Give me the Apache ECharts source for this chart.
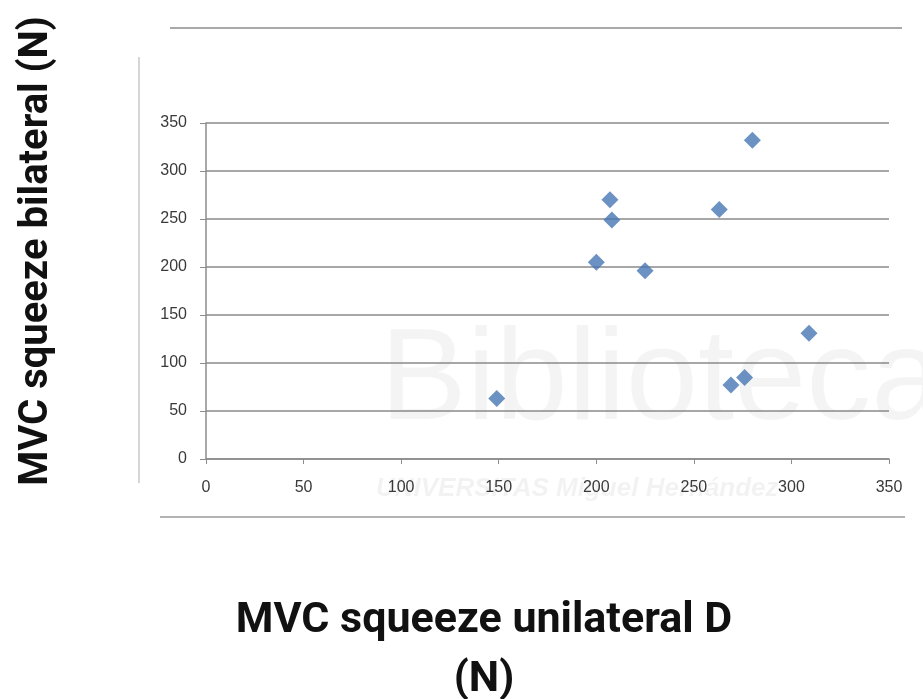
<!DOCTYPE html>
<html>
<head>
<meta charset="utf-8">
<script src="https://cdn.jsdelivr.net/npm/echarts@6/dist/echarts.min.js"></script>
<style>
html,body{margin:0;padding:0;background:#fff;}
#main{width:923px;height:699px;}
</style>
</head>
<body>
<div id="main"></div>
<script>
// Data
const unilateralD = [149, 200, 207, 208, 225, 263, 269, 276, 280, 309];
const bilateral   = [63, 205, 270, 249, 196, 260, 77, 85, 332, 131];
const xTicks = [0, 50, 100, 150, 200, 250, 300, 350];
const yTicks = [0, 50, 100, 150, 200, 250, 300, 350];
const xTitle = 'MVC squeeze unilateral D\n(N)';
const yTitle = 'MVC squeeze bilateral (N)';

const points = unilateralD.map((x, i) => [x, bilateral[i]]);

const chart = echarts.init(document.getElementById('main'), null, {renderer: 'canvas'});
const labelStyle = {color: '#3a3a3a', fontSize: 16, fontFamily: 'Liberation Sans, Arial, sans-serif'};
chart.setOption({
  backgroundColor: '#fff',
  animation: false,
  grid: {left: 206, right: 34, top: 123, bottom: 240, containLabel: false},
  xAxis: {
    type: 'value', min: xTicks[0], max: xTicks[xTicks.length - 1], interval: 50,
    axisLine: {show: true, onZero: false, lineStyle: {color: '#8c8c8c', width: 1.5}},
    axisTick: {show: true, length: 5, inside: false, lineStyle: {color: '#8c8c8c'}},
    axisLabel: Object.assign({margin: 21}, labelStyle),
    splitLine: {show: false}
  },
  yAxis: {
    type: 'value', min: yTicks[0], max: yTicks[yTicks.length - 1], interval: 50,
    axisLine: {show: true, lineStyle: {color: '#8c8c8c', width: 1.5}},
    axisTick: {show: true, length: 6, lineStyle: {color: '#8c8c8c'}},
    axisLabel: Object.assign({margin: 19}, labelStyle),
    splitLine: {show: true, lineStyle: {color: '#8a8a8a', width: 1.5}}
  },
  series: [{
    type: 'scatter',
    data: points,
    symbol: 'diamond',
    symbolSize: 17,
    itemStyle: {color: '#4677b4'},
    z: 5
  }],
  graphic: [
    // faint watermark
    {type: 'text', left: 380, top: 318, silent: true, z: -10,
     style: {text: 'Biblioteca', fontSize: 130, fontFamily: 'Liberation Sans, Arial, sans-serif', fill: 'rgba(0,0,0,0.045)'}},
    {type: 'text', left: 376, top: 476, silent: true, z: -10,
     style: {text: 'UNIVERSITAS Miguel Hernández', fontSize: 26, fontWeight: 'bold', fontStyle: 'italic', fontFamily: 'Liberation Sans, Arial, sans-serif', fill: 'rgba(0,0,0,0.05)'}},
    // frame remnants
    {type: 'line', silent: true, shape: {x1: 170, y1: 28, x2: 902, y2: 28}, style: {stroke: '#8c8c8c', lineWidth: 1.5}},
    {type: 'line', silent: true, shape: {x1: 160, y1: 517, x2: 905, y2: 517}, style: {stroke: '#9a9a9a', lineWidth: 1.5}},
    {type: 'line', silent: true, shape: {x1: 139, y1: 57, x2: 139, y2: 483}, style: {stroke: '#c8c8c8', lineWidth: 1.5}},
    // axis titles
    {type: 'text', x: 484, y: 651, silent: true,
     style: {text: xTitle, fontSize: 43, fontWeight: 'bold', fontFamily: 'Roboto, Arial, sans-serif', fill: '#111', align: 'center', verticalAlign: 'middle', lineHeight: 59}},
    {type: 'text', x: 37, y: 251, rotation: Math.PI / 2, silent: true,
     style: {text: yTitle, fontSize: 40, fontWeight: 'bold', fontFamily: 'Roboto, Arial, sans-serif', fill: '#111', align: 'center', verticalAlign: 'middle'}}
  ]
});
</script>
</body>
</html>
